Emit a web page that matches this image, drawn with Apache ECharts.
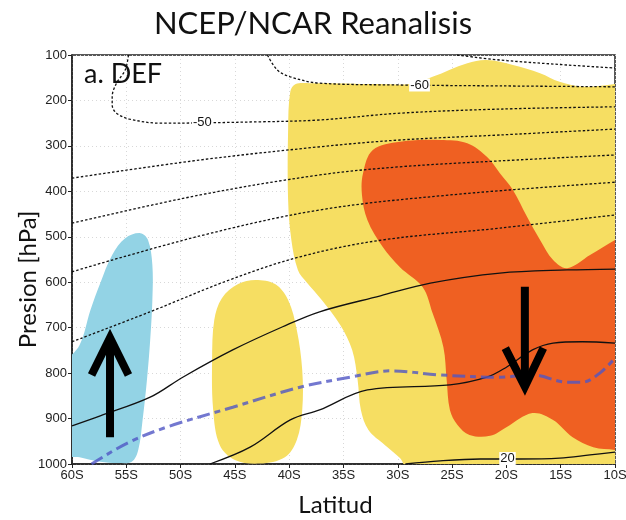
<!DOCTYPE html>
<html><head><meta charset="utf-8">
<script src="https://cdn.jsdelivr.net/npm/echarts@6/dist/echarts.min.js"></script>
<style>html,body{margin:0;padding:0;background:#fff}#c{width:626px;height:520px}</style>
</head><body><div id="c"></div>
<script>
// Axis ticks
const latTicks = [-60,-55,-50,-45,-40,-35,-30,-25,-20,-15,-10];
const presTicks = [100,200,300,400,500,600,700,800,900,1000];

// Shaded regions [lat, hPa]
const blueRegion = [[-53.7,492],[-53.0,507],[-52.6,562],[-52.6,639],[-52.8,727],[-53.1,815],[-53.5,903],[-53.9,969],[-54.5,995],[-55.8,998],[-57.4,995],[-59.3,985],[-61,978],[-61,793],[-59.3,738],[-58.3,661],[-57.4,602],[-56.3,540],[-55.1,503]];
const yellowBlob = [[-43.1,595],[-41.3,604],[-40.1,639],[-39.3,705],[-38.8,793],[-38.8,881],[-39.3,947],[-40.4,985],[-42.7,999],[-45.0,991],[-46.4,958],[-47.0,881],[-47.1,771],[-46.9,683],[-46.2,635],[-44.7,604]];
const yellowMain = [[-39.9,181],[-39.4,164],[-38.1,162],[-31.6,164],[-28.9,164],[-26.8,148],[-23.6,118],[-21.8,111],[-19.4,122],[-16.9,140],[-15.1,159],[-12.9,170],[-10,164],[-9,160],[-9,1015],[-28.9,1015],[-29.8,987],[-31.2,958],[-32.7,925],[-33.4,881],[-33.7,815],[-34.2,749],[-35.3,694],[-37.0,639],[-38.4,600],[-39.2,573],[-39.8,507],[-40.1,419],[-40.1,265]];
const orangeRegion = [[-33.2,360],[-32.3,309],[-29.8,291],[-26.1,287],[-23.6,294],[-21.8,324],[-20.6,360],[-19.4,397],[-18.1,456],[-16.9,507],[-15.7,551],[-14.4,569],[-12.3,540],[-10,507],[-9,495],[-9,975],[-10,969],[-12.0,963],[-13.9,941],[-15.7,903],[-17.6,888],[-20.0,919],[-21.5,938],[-23.4,936],[-24.5,914],[-25.2,881],[-25.5,815],[-25.8,743],[-26.8,668],[-27.7,611],[-29.8,567],[-31.4,522],[-32.8,463],[-33.3,408]];

// Contours (dotted = negative)
const cM70 = [[-24.55,100],[-20.6,111],[-14.4,122],[-10,128.6]];
const cM60 = [[-42.0,100],[-41.1,133],[-39.9,148],[-37.2,162],[-29.8,166],[-20.6,168],[-10,170]];
const cM50 = [[-54.8,100],[-55.1,133],[-55.9,162],[-56.3,192],[-56.3,210],[-55.9,228],[-54.7,241],[-51.9,250],[-42.7,247],[-37.2,243],[-29.8,228],[-20.6,219],[-10,214]];
const cM40 = [[-60,371],[-48.2,331],[-37.2,302],[-29.8,287],[-20.6,276],[-10,263]];
const cM30 = [[-60,470],[-48.2,408],[-37.2,364],[-29.8,346],[-20.6,333],[-10,320]];
const cM20 = [[-60,577],[-48.2,498],[-37.2,441],[-25.2,408],[-10,380]];
const cM10 = [[-60,731],[-52.8,665],[-45.5,595],[-39.0,544],[-31.4,507],[-20.6,481],[-10,452]];
// Solid contours
const c0 = [[-60,916],[-57.4,894],[-52.8,853],[-49.8,809],[-45.2,749],[-40.6,698],[-37.2,665],[-31.6,630],[-27.0,602],[-20.6,580],[-14.4,573],[-10,571]];
const c10 = [[-47.3,1000],[-43.6,963],[-39.9,903],[-37.2,881],[-32.8,837],[-25.2,826],[-21.8,809],[-20.0,787],[-17.6,749],[-15.7,734],[-13.0,731],[-10,734]];
const c20 = [[-29.3,1000],[-26.1,993],[-22.4,989],[-18.8,989],[-15.1,987],[-12.3,980],[-10,974]];
// Blue dashed line
const blueDash = [[-58.2,1000],[-54.9,954],[-51.3,919],[-45.2,875],[-39.0,831],[-34.4,809],[-30.7,795],[-26.1,804],[-20.6,809],[-17.6,804],[-14.4,820],[-13.0,820],[-11.4,800],[-10,767]];

// Contour labels [lat, hPa, text]
const contourLabels = [[-48.0,249,'-50'],[-28.0,166,'-60'],[-19.9,988,'20']];
// Arrows (lat, hPa)
const arrowUp = {shaft:[[-56.5,941],[-56.5,728]], head:[[-58.2,804],[-56.5,722],[-54.8,804]]};
const arrowDown = {shaft:[[-18.3,610],[-18.3,824]], head:[[-20.1,745],[-18.3,830],[-16.6,745]]};

const chart = echarts.init(document.getElementById('c'), null, {renderer:'canvas'});

function region(pts, color){
  return {type:'custom', silent:true, clip:true, z:1, data:[[-35,550]],
    renderItem:(p, api)=>({type:'polygon', shape:{points:pts.map(q=>api.coord(q)), smooth:0.35}, style:{fill:color}})};
}
function contour(pts, dotted){
  return {type:'line', data:pts, smooth:0.35, showSymbol:false, silent:true, z:3,
    lineStyle:{color:'#111', width:1.3, type: dotted?[2.5,2]:'solid'}};
}
function arrow(a){
  return {type:'custom', silent:true, clip:true, z:6, data:[[-35,550]],
    renderItem:(p, api)=>({type:'group', children:[
      {type:'polyline', shape:{points:a.shaft.map(q=>api.coord(q))}, style:{stroke:'#000', lineWidth:8, fill:null}},
      {type:'polyline', shape:{points:a.head.map(q=>api.coord(q))}, style:{stroke:'#000', lineWidth:8, fill:null, lineJoin:'miter'}}
    ]})};
}

const option = {
  animation:false,
  backgroundColor:'#fff',
  title:{text:'NCEP/NCAR Reanalisis', left:'center', top:3,
    textStyle:{fontFamily:'Lato', fontWeight:'normal', fontSize:31, color:'#111'}},
  graphic:[{type:'text', left:84, top:61, z:10, style:{text:'a. DEF', fontFamily:'Lato', fontSize:27, fill:'#111'}}],
  grid:{left:72, right:11, top:55, bottom:56, outerBoundsMode:'none', containLabel:false,
    show:true, borderColor:'#222', borderWidth:1.5, backgroundColor:'transparent'},
  xAxis:{type:'value', min:-60, max:-10, interval:5,
    name:'Latitud', nameLocation:'middle', nameGap:29, nameMoveOverlap:false,
    nameTextStyle:{fontFamily:'Lato', fontSize:24, color:'#111', padding:[0,16,0,0]},
    axisLine:{show:true, lineStyle:{color:'#222', width:1.5}},
    axisTick:{show:true, length:4, lineStyle:{color:'#222'}},
    axisLabel:{formatter:v=>Math.abs(v)+'S', fontFamily:'Liberation Sans', fontSize:13, color:'#222', margin:5},
    splitLine:{show:true, lineStyle:{color:'#d8d8d8', type:[1,3]}}},
  yAxis:{type:'value', inverse:true, min:100, max:1000, interval:100,
    name:'Presion [hPa]', nameLocation:'middle', nameGap:32, nameRotate:90, nameMoveOverlap:false,
    nameTextStyle:{fontFamily:'Lato', fontSize:24, color:'#111', padding:[0,40,0,0]},
    axisLine:{show:true, lineStyle:{color:'#222', width:1.5}},
    axisTick:{show:true, length:4, lineStyle:{color:'#222'}},
    axisLabel:{formatter:v=>String(v), fontFamily:'Liberation Sans', fontSize:13, color:'#222', margin:5},
    splitLine:{show:true, lineStyle:{color:'#d8d8d8', type:[1,3]}}},
  series:[
    region(blueRegion, '#93d3e5'),
    region(yellowBlob, '#f6de62'),
    region(yellowMain, '#f6de62'),
    region(orangeRegion, '#ef6022'),
    contour(cM70, true), contour(cM60, true), contour(cM50, true), contour(cM40, true),
    contour(cM30, true), contour(cM20, true), contour(cM10, true),
    contour(c0, false), contour(c10, false), contour(c20, false),
    {type:'line', data:blueDash, smooth:0.35, showSymbol:false, silent:true, z:4,
      lineStyle:{color:'rgba(80,86,196,0.8)', width:3, type:[13,5,6,5]}},
    {type:'custom', silent:true, z:5, data:contourLabels,
      renderItem:(p, api)=>{const c = api.coord([api.value(0), api.value(1)]);
        return {type:'text', x:c[0], y:c[1], style:{text:contourLabels[p.dataIndex][2], align:'center', verticalAlign:'middle',
          fontFamily:'Liberation Sans', fontSize:13, fill:'#111', backgroundColor:'#fff', padding:[0,1]}};}},
    arrow(arrowUp), arrow(arrowDown)
  ]
};
chart.setOption(option);
</script></body></html>
